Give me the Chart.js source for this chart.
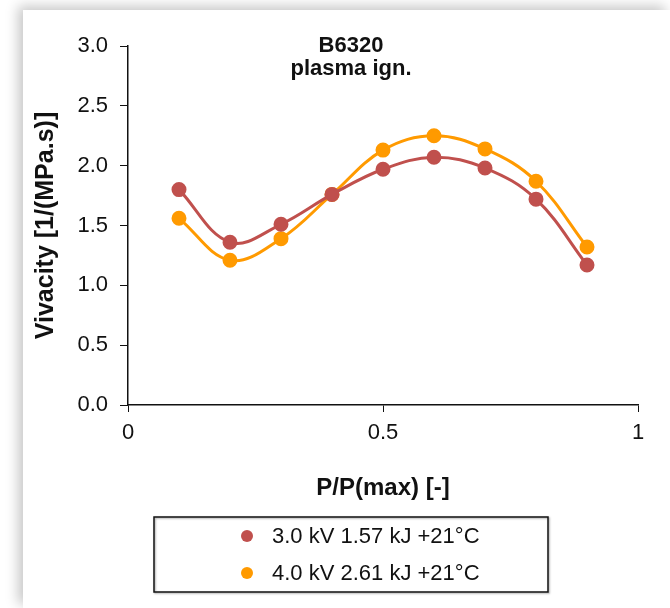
<!DOCTYPE html>
<html>
<head>
<meta charset="utf-8">
<script src="https://cdn.jsdelivr.net/npm/chart.js@4"></script>
<style>
  html, body { margin: 0; padding: 0; background: #fff; }
  #panel {
    position: absolute; left: 23px; top: 10px; width: 647px; height: 598px;
    background: #fff; box-shadow: -5px -4px 12px rgba(0, 0, 0, 0.22);
  }
</style>
</head>
<body>
<div id="panel"><canvas id="chart" width="647" height="598"></canvas></div>
<script>
// P/P(max) values shared by both series
const ratios = [0.1, 0.2, 0.3, 0.4, 0.5, 0.6, 0.7, 0.8, 0.9];
const vivacity3kV = [1.80, 1.36, 1.51, 1.76, 1.97, 2.07, 1.98, 1.72, 1.17];
const vivacity4kV = [1.56, 1.21, 1.39, 1.76, 2.13, 2.25, 2.14, 1.87, 1.32];
const seriesLabels = ["3.0 kV 1.57 kJ +21°C", "4.0 kV 2.61 kJ +21°C"];
const seriesColors = ["#c0504d", "#ff9a00"];
const titleLines = ["B6320", "plasma ign."];

const FONT = "'Liberation Sans', Arial, sans-serif";
const toPoints = (ys) => ratios.map((x, i) => ({ x: x, y: ys[i] }));

// title inside the plot area
const innerTitle = {
  id: "innerTitle",
  afterDraw(chart) {
    const ctx = chart.ctx;
    const cx = chart.chartArea.left + 223;
    ctx.save();
    ctx.fillStyle = "#111";
    ctx.font = "bold 22px " + FONT;
    ctx.textAlign = "center";
    ctx.textBaseline = "alphabetic";
    titleLines.forEach((t, i) => ctx.fillText(t, cx, 42 + i * 23));
    ctx.restore();
  }
};

// boxed legend below the x axis
const legendBox = {
  id: "legendBox",
  afterDraw(chart) {
    const ctx = chart.ctx;
    const left = chart.chartArea.left + 26;
    const top = chart.scales.x.bottom + 8;
    const w = 394, h = 75;
    ctx.save();
    ctx.shadowColor = "rgba(0,0,0,0.35)";
    ctx.shadowOffsetX = 1;
    ctx.shadowOffsetY = 1;
    ctx.shadowBlur = 2;
    ctx.strokeStyle = "#111";
    ctx.lineWidth = 1.5;
    ctx.strokeRect(left, top, w, h);
    ctx.restore();
    ctx.save();
    ctx.font = "22px " + FONT;
    ctx.textBaseline = "middle";
    chart.data.datasets.forEach((ds, i) => {
      const y = top + 19 + i * 37;
      ctx.fillStyle = ds.pointBackgroundColor;
      ctx.beginPath();
      ctx.arc(left + 93, y, 6, 0, Math.PI * 2);
      ctx.fill();
      ctx.fillStyle = "#111";
      ctx.fillText(ds.label, left + 118, y + 1);
    });
    ctx.restore();
  }
};

const ctx = document.getElementById("chart").getContext("2d");
new Chart(ctx, {
  type: "scatter",
  data: {
    datasets: [vivacity3kV, vivacity4kV].map((ys, i) => ({
      label: seriesLabels[i],
      data: toPoints(ys),
      showLine: true,
      tension: 0.38,
      borderColor: seriesColors[i],
      backgroundColor: seriesColors[i],
      pointBackgroundColor: seriesColors[i],
      pointBorderColor: seriesColors[i],
      pointRadius: 6,
      borderWidth: 3
    }))
  },
  options: {
    responsive: false,
    animation: false,
    layout: { padding: { left: 0, right: 32, top: 36, bottom: 99 } },
    plugins: {
      legend: { display: false },
      tooltip: { enabled: false }
    },
    scales: {
      x: {
        type: "linear",
        min: 0,
        max: 1,
        afterFit: (s) => { s.height = 104; },
        ticks: {
          stepSize: 0.5,
          padding: 8,
          color: "#111",
          font: { family: FONT, size: 22 },
          callback: (v) => String(v)
        },
        grid: { drawOnChartArea: false, drawTicks: true, tickLength: 7, color: "#111" },
        border: { color: "#111", width: 1.5 },
        title: {
          display: true,
          text: "P/P(max) [-]",
          color: "#111",
          font: { family: FONT, size: 24, weight: "bold" },
          padding: { top: 4, bottom: 6 }
        }
      },
      y: {
        min: 0,
        max: 3,
        afterFit: (s) => { s.width = 105; },
        ticks: {
          stepSize: 0.5,
          padding: 12,
          color: "#111",
          font: { family: FONT, size: 22 },
          callback: (v) => v.toFixed(1)
        },
        grid: { drawOnChartArea: false, drawTicks: true, tickLength: 8, color: "#111" },
        border: { color: "#111", width: 1.5 },
        title: {
          display: true,
          text: "Vivacity [1/(MPa.s)]",
          color: "#111",
          font: { family: FONT, size: 25, weight: "bold" },
          padding: { top: 8, bottom: 0 }
        }
      }
    }
  },
  plugins: [innerTitle, legendBox]
});
</script>
</body>
</html>
